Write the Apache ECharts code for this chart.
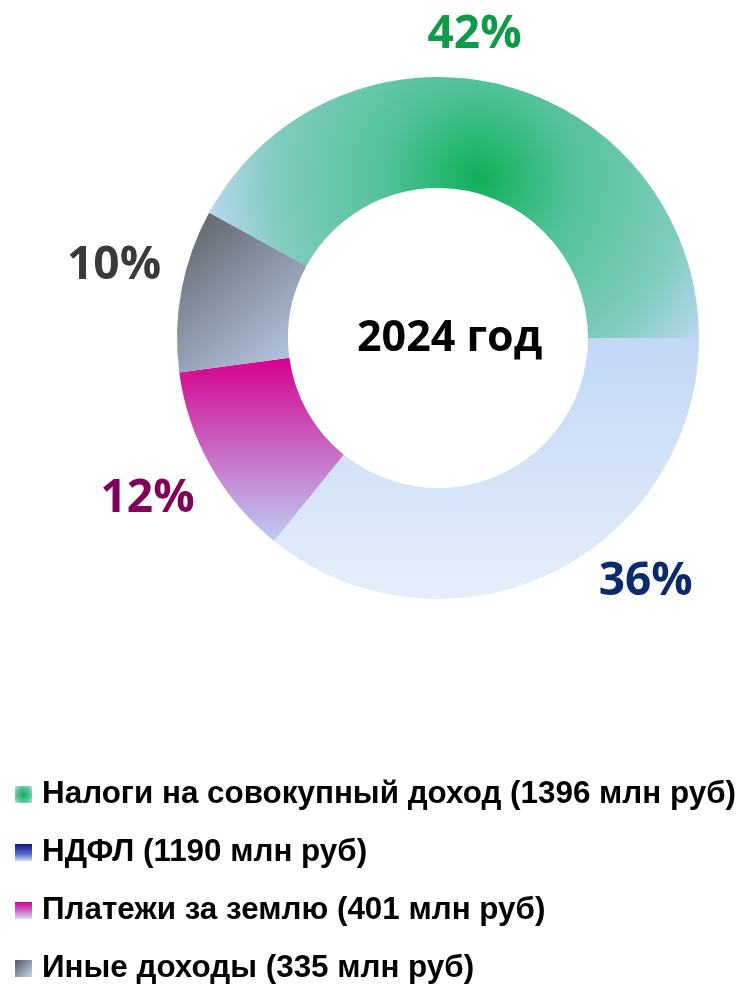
<!DOCTYPE html>
<html>
<head>
<meta charset="utf-8">
<script src="https://cdn.jsdelivr.net/npm/echarts@6/dist/echarts.min.js"></script>
<style>
  html, body { margin: 0; padding: 0; background: #fff; }
  #main { width: 746px; height: 987px; }
</style>
</head>
<body>
<div id="main"></div>
<script>
var categories = ['Налоги на совокупный доход', 'НДФЛ', 'Платежи за землю', 'Иные доходы'];
var values = [1396, 1190, 401, 335];
var centerTitle = '2024 год';

var labelColors = ['#0e9a48', '#0b2a6b', '#80005a', '#3a3a3a'];
// nudges for the percent labels, relative to the default outside spot
var labelShift = [[-90, -11], [26, -28], [24, 13], [24, -17]];

var fills = [
    new echarts.graphic.RadialGradient(0.55, 0.39, 1.05, [
        { offset: 0, color: '#10b05a' },
        { offset: 0.35, color: '#52c29a' },
        { offset: 0.75, color: '#80ccbf' },
        { offset: 1, color: '#bcd8f0' }
    ]),
    new echarts.graphic.LinearGradient(0, 0, 0, 1, [
        { offset: 0, color: '#c2d7f5' },
        { offset: 1, color: '#e5eefa' }
    ]),
    new echarts.graphic.LinearGradient(0, 0, 0, 1, [
        { offset: 0, color: '#d6008e' },
        { offset: 0.5, color: '#c868c4' },
        { offset: 1, color: '#bfcdf3' }
    ]),
    new echarts.graphic.LinearGradient(0, 0, 1, 1, [
        { offset: 0, color: '#5c5f65' },
        { offset: 1, color: '#bccfec' }
    ])
];

// legend swatches show the full gradient, not only the visible part
var swatches = [
    new echarts.graphic.RadialGradient(0.5, 0.5, 0.7, [
        { offset: 0, color: '#10b05a' },
        { offset: 0.6, color: '#5cc4a0' },
        { offset: 1, color: '#c4e0f0' }
    ]),
    new echarts.graphic.LinearGradient(0, 0, 0, 1, [
        { offset: 0, color: '#14148a' },
        { offset: 0.6, color: '#5a6acb' },
        { offset: 1, color: '#d0dcf6' }
    ]),
    new echarts.graphic.LinearGradient(0, 0, 0, 1, [
        { offset: 0, color: '#d6008e' },
        { offset: 0.5, color: '#c868c4' },
        { offset: 1, color: '#d6dcf6' }
    ]),
    new echarts.graphic.LinearGradient(0, 0, 1, 1, [
        { offset: 0, color: '#55585e' },
        { offset: 1, color: '#c4d2ea' }
    ])
];

var chart = echarts.init(document.getElementById('main'));

var pieData = categories.map(function (name, i) {
    return {
        name: name,
        value: values[i],
        itemStyle: { color: fills[i] },
        label: { color: labelColors[i] }
    };
});

var legendData = categories.map(function (name, i) {
    return { name: name, itemStyle: { color: swatches[i] } };
});

var option = {
    animation: false,
    title: {
        text: centerTitle,
        left: 352,
        top: 312,
        textStyle: {
            fontFamily: 'Open Sans',
            fontWeight: 'bold',
            fontSize: 43,
            color: '#000'
        }
    },
    legend: {
        orient: 'vertical',
        left: 15,
        top: 779,
        padding: 0,
        itemWidth: 17,
        itemHeight: 17,
        itemGap: 27,
        icon: 'rect',
        data: legendData,
        formatter: function (name) {
            return name + ' (' + values[categories.indexOf(name)] + ' млн руб)';
        },
        textStyle: {
            fontFamily: 'Liberation Sans',
            fontWeight: 'bold',
            fontSize: 31.4,
            color: '#000',
            padding: [0, 0, 0, 5]
        }
    },
    series: [{
        type: 'pie',
        center: [438, 338],
        radius: [150, 261],
        startAngle: 151.3,
        clockwise: true,
        avoidLabelOverlap: false,
        label: {
            show: true,
            position: 'outside',
            alignTo: 'none',
            formatter: function (p) {
                return Math.round(p.percent) + '%';
            },
            fontFamily: 'Open Sans',
            fontWeight: 'bold',
            fontSize: 46
        },
        labelLine: { show: false, length: 40, length2: 0 },
        labelLayout: function (p) {
            return { dx: labelShift[p.dataIndex][0], dy: labelShift[p.dataIndex][1] };
        },
        emphasis: { disabled: true },
        data: pieData
    }]
};

chart.setOption(option);
</script>
</body>
</html>
